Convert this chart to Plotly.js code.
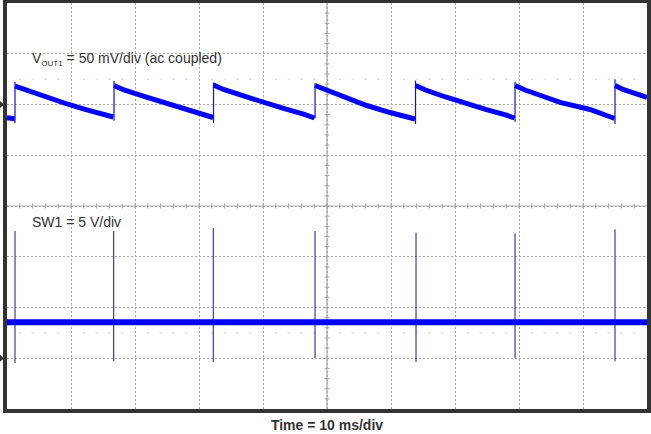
<!DOCTYPE html>
<html><head><meta charset="utf-8">
<script src="https://cdn.plot.ly/plotly-3.0.1.min.js"></script>
<style>html,body{margin:0;padding:0;background:#fff}#chart{width:651px;height:434px}</style>
</head><body><div id="chart"></div>
<script>
// ---- texts ----
const xTitle = 'Time = 10 ms/div';
const ch1Label = 'V<sub><span style="font-size:8px">OUT1</span></sub> = 50 mV/div (ac coupled)';
const ch2Label = 'SW1 = 5 V/div';

// ---- CH1: Vout ripple (ms, mV), null breaks at each step ----
const vout_t = [0, 0.6, 1.2, null,
  1.25, 4.06, 6.72, 9.38, 12.19, 14.53, 16.6, null,
  16.72, 18.28, 21.41, 24.53, 27.66, 30.78, 32.2, null,
  32.27, 33.83, 36.95, 40.08, 43.2, 46.33, 48.05, null,
  48.13, 50.11, 53.08, 56.2, 59.84, 62.19, 63.75, null,
  63.83, 65.39, 68.52, 71.64, 74.77, 77.89, 79.3, null,
  79.38, 80.94, 84.06, 86.41, 91.09, 94.69, 94.95, null,
  95.0, 96.25, 100];
const vout_mV = [-13.0, -13.5, -14.0, null,
  18.2, 11.8, 5.9, 0.5, -4.9, -9.4, -12.3, null,
  18.7, 14.3, 7.9, 2.0, -3.9, -9.4, -12.8, null,
  19.2, 14.8, 8.4, 2.0, -3.9, -9.4, -13.3, null,
  18.7, 13.8, 6.9, -1.0, -7.9, -12.3, -14.3, null,
  18.7, 14.3, 7.4, 1.0, -4.9, -10.3, -13.3, null,
  18.7, 14.3, 7.4, 2.0, -4.9, -13.3, -13.8, null,
  18.7, 14.8, 6.9];
// steps of the ripple (ms, mV)
const step_t = [1.25, 16.72, 32.27, 48.13, 63.83, 79.38, 95.0];
const step_low_mV = [-18.2, -16.0, -18.2, -13.6, -19.2, -17.0, -19.2];
const step_high_mV = [22.2, 23.1, 21.7, 20.9, 23.6, 22.5, 24.8];

// ---- CH2: switch node (ms, V) ----
const sw_t = [0, 100];
const sw_V = [3.55, 3.55];
const spike_t = [1.25, 16.67, 32.23, 48.13, 63.91, 79.38, 95.0];
const spike_high_V = [12.54, 12.54, 12.83, 12.54, 12.37, 12.3, 12.7];
const spike_low_V = [-0.47, -0.27, -0.37, 0.02, -0.37, 0.0, -0.3];

function vsegs(t, lo, hi) {
  const x = [], y = [];
  for (let i = 0; i < t.length; i++) { x.push(t[i], t[i], null); y.push(lo[i], hi[i], null); }
  return {x, y};
}
const st = vsegs(step_t, step_low_mV, step_high_mV);
const sp = vsegs(spike_t, spike_low_V, spike_high_V);

const BLUE = '#0000ff';
const traces = [
  {x: vout_t, y: vout_mV, type: 'scatter', mode: 'lines', line: {color: BLUE, width: 5}, connectgaps: false, yaxis: 'y', hoverinfo: 'skip'},
  {x: st.x, y: st.y, type: 'scatter', mode: 'lines', line: {color: '#1010e0', width: 1.2}, yaxis: 'y', hoverinfo: 'skip'},
  {x: sw_t, y: sw_V, type: 'scatter', mode: 'lines', line: {color: BLUE, width: 6}, yaxis: 'y2', hoverinfo: 'skip'},
  {x: sp.x, y: sp.y, type: 'scatter', mode: 'lines', line: {color: '#1414a8', width: 1}, yaxis: 'y2', hoverinfo: 'skip'}
];

// ---- graticule decorations (shapes) ----
const shapes = [];
const GC = '#a6a6a6';
shapes.push({type: 'line', xref: 'paper', yref: 'paper', x0: 0.5, x1: 0.5, y0: 0, y1: 1, line: {color: '#9a9a9a', width: 1}, layer: 'between'});
shapes.push({type: 'line', xref: 'paper', yref: 'paper', x0: 0, x1: 1, y0: 0.5, y1: 0.5, line: {color: '#ababab', width: 1}, layer: 'between'});
const W = 640, H = 406;
for (let k = 1; k < 40; k++) {
  shapes.push({type: 'line', xref: 'paper', yref: 'paper', x0: 0.5 - 2.5 / W, x1: 0.5 + 2.5 / W, y0: k / 40, y1: k / 40, line: {color: GC, width: 1}, layer: 'between'});
}
for (let k = 1; k < 50; k++) {
  shapes.push({type: 'line', xref: 'paper', yref: 'paper', x0: k / 50, x1: k / 50, y0: 0.5 - 2.5 / H, y1: 0.5 + 2.5 / H, line: {color: GC, width: 1}, layer: 'between'});
  [0.8125, 0.1875].forEach(function (yy) {
    shapes.push({type: 'line', xref: 'paper', yref: 'paper', x0: k / 50 - 1 / W, x1: k / 50 + 1 / W, y0: yy, y1: yy, line: {color: '#c4c4c4', width: 1}, layer: 'between'});
  });
}
// channel ground markers on the left edge
shapes.push({type: 'path', xref: 'paper', yref: 'y', xsizemode: 'pixel', ysizemode: 'pixel', xanchor: 0, yanchor: 0, path: 'M-7,3 L-3,0 L-7,-3 Z', fillcolor: '#333', line: {color: '#333', width: 0.5}});
shapes.push({type: 'path', xref: 'paper', yref: 'y2', xsizemode: 'pixel', ysizemode: 'pixel', xanchor: 0, yanchor: 0, path: 'M-7,3 L-3,0 L-7,-3 Z', fillcolor: '#333', line: {color: '#333', width: 0.5}});

const FONT = 'Liberation Sans, Arial, sans-serif';
const layout = {
  width: 651, height: 434,
  margin: {l: 7, r: 4, t: 3, b: 25, pad: 0},
  paper_bgcolor: '#fff', plot_bgcolor: '#fff',
  showlegend: false,
  xaxis: {range: [0, 100], dtick: 10, tick0: 0, showticklabels: false, ticks: '', showgrid: true, gridcolor: GC, gridwidth: 1, griddash: '2px,2px', zeroline: false, showline: true, mirror: true, linecolor: '#333', linewidth: 4, fixedrange: true,
    title: {text: '<b>' + xTitle + '</b>', standoff: 9, font: {family: FONT, size: 14, color: '#333'}}},
  yaxis: {range: [-300, 100], dtick: 50, tick0: 0, showticklabels: false, ticks: '', showgrid: true, gridcolor: GC, gridwidth: 1, griddash: '2px,2px', zeroline: false, showline: true, mirror: true, linecolor: '#333', linewidth: 4, fixedrange: true},
  yaxis2: {range: [-5, 35], overlaying: 'y', visible: false, fixedrange: true},
  shapes: shapes,
  annotations: [
    {text: ch1Label, xref: 'paper', yref: 'paper', x: 23 / 640, y: (409 - 59.5) / 406, xanchor: 'left', yanchor: 'middle', showarrow: false, font: {family: FONT, size: 14, color: '#333'}},
    {text: ch2Label, xref: 'paper', yref: 'paper', x: 23 / 640, y: (409 - 222) / 406, xanchor: 'left', yanchor: 'middle', showarrow: false, font: {family: FONT, size: 14, color: '#333'}}
  ]
};
Plotly.newPlot('chart', traces, layout, {staticPlot: true, displayModeBar: false});
</script>
</body></html>
